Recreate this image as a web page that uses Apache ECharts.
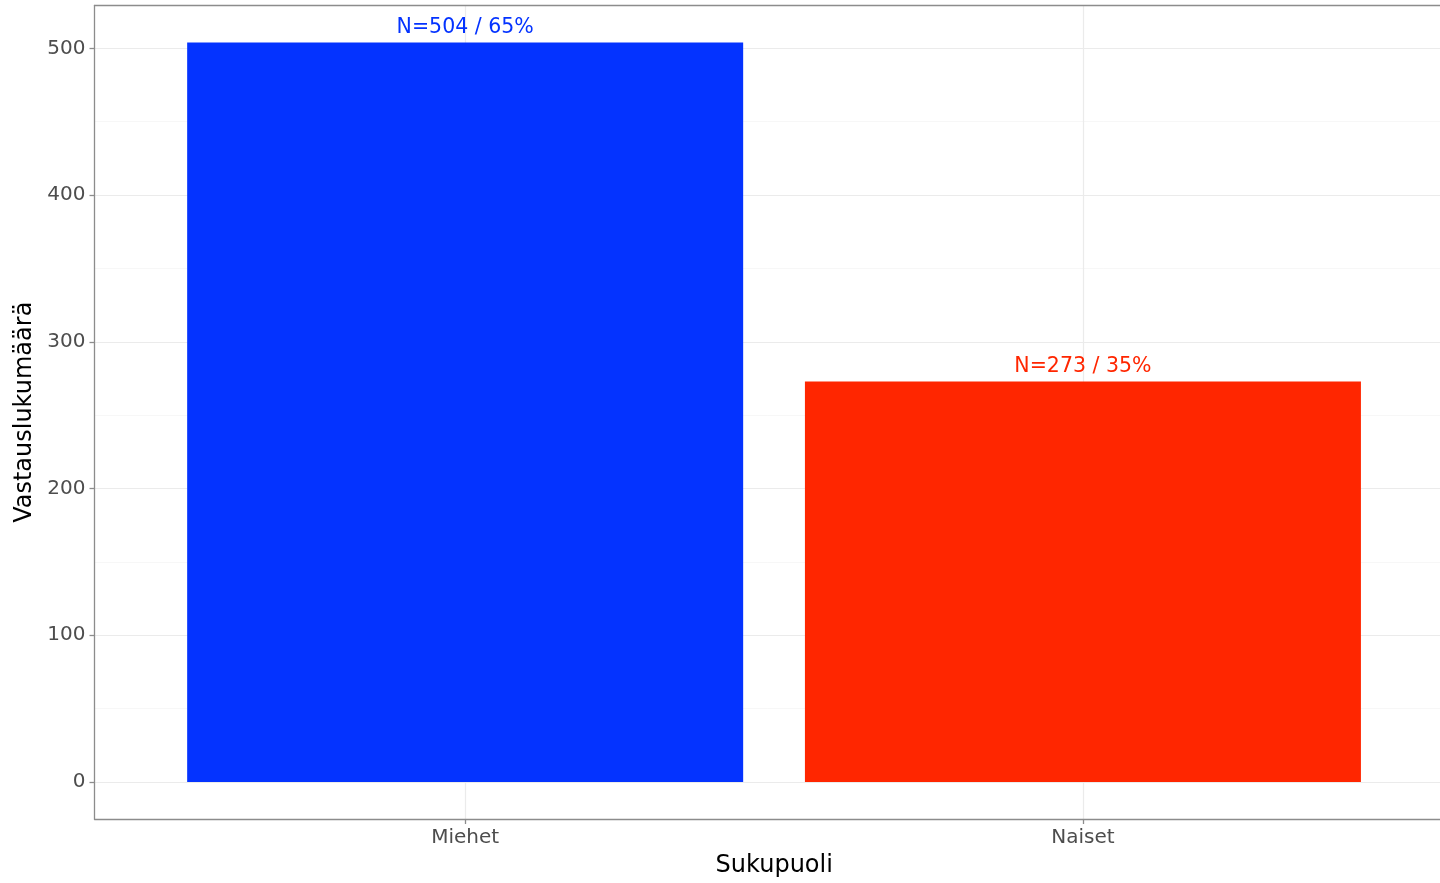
<!DOCTYPE html>
<html>
<head>
<meta charset="utf-8">
<script src="https://cdn.jsdelivr.net/npm/echarts@6/dist/echarts.min.js"></script>
<style>
html,body{margin:0;padding:0;background:#fff;}
#chart{width:1440px;height:883px;}
</style>
</head>
<body>
<div id="chart"></div>
<script>
// ---- data ----
const categories = ['Miehet', 'Naiset'];
const counts = [504, 273];
const percents = [65, 35];
const barColors = ['#0433FF', '#FF2600'];
const yTicks = [0, 100, 200, 300, 400, 500];
const yMinorTicks = [50, 150, 250, 350, 450];

const catPos = categories.map((c, i) => i + 1);
const yMin = -25.2, yMax = 529.2;
const xMin = 0.4, xMax = 2.578;

const gridLineData = []
  .concat(yTicks.map(v => ({ yAxis: v, lineStyle: { color: '#ebebeb', width: 1.2, type: 'solid' } })))
  .concat(yMinorTicks.map(v => ({ yAxis: v, lineStyle: { color: '#f5f5f5', width: 0.8, type: 'solid' } })))
  .concat(catPos.map(v => ({ xAxis: v, lineStyle: { color: '#ebebeb', width: 1.2, type: 'solid' } })));

const FONT = 'DejaVu Sans';
const borderStyle = { color: '#8c8c8c', width: 1.3 };
const labelFont = { fontFamily: FONT, fontSize: 20, color: '#4d4d4d' };
const titleFont = { fontFamily: FONT, fontSize: 24, color: '#000' };

const chart = echarts.init(document.getElementById('chart'));
chart.setOption({
  animation: false,
  backgroundColor: '#ffffff',
  grid: { left: 94.5, top: 5.5, bottom: 63, right: 0, show: false },
  xAxis: [{
    type: 'value', min: xMin, max: xMax, position: 'bottom',
    name: 'Sukupuoli', nameLocation: 'middle', nameGap: 35,
    nameTextStyle: Object.assign({ padding: [0, 0, 0, 14] }, titleFont),
    axisLine: { show: true, onZero: false, lineStyle: borderStyle },
    axisTick: { show: true, customValues: catPos, length: 5, lineStyle: borderStyle },
    axisLabel: Object.assign({ customValues: catPos, margin: 9, formatter: v => categories[Math.round(v) - 1] }, labelFont),
    splitLine: { show: false }
  }, {
    type: 'value', min: xMin, max: xMax, position: 'top',
    axisLine: { show: true, onZero: false, lineStyle: borderStyle },
    axisTick: { show: false }, axisLabel: { show: false }, splitLine: { show: false }
  }],
  yAxis: {
    type: 'value', min: yMin, max: yMax,
    name: 'Vastauslukumäärä', nameLocation: 'middle', nameGap: 52, nameTextStyle: titleFont,
    axisLine: { show: true, onZero: false, lineStyle: borderStyle },
    axisTick: { show: true, customValues: yTicks, length: 5, lineStyle: borderStyle },
    axisLabel: Object.assign({ customValues: yTicks, margin: 9 }, labelFont),
    splitLine: { show: false }
  },
  series: [
    {
      type: 'line', data: [], z: 0, silent: true,
      markLine: { silent: true, z: 0, symbol: 'none', label: { show: false }, data: gridLineData, animation: false }
    },
    {
      type: 'bar', z: 3, barWidth: 556,
      data: categories.map((c, i) => ({
        value: [catPos[i], counts[i]],
        itemStyle: { color: barColors[i] },
        label: { color: barColors[i] }
      })),
      label: {
        show: true, position: 'top', distance: 4,
        fontFamily: FONT, fontSize: 20.5,
        formatter: p => 'N=' + counts[p.dataIndex] + ' / ' + percents[p.dataIndex] + '%'
      }
    }
  ]
});
</script>
</body>
</html>
